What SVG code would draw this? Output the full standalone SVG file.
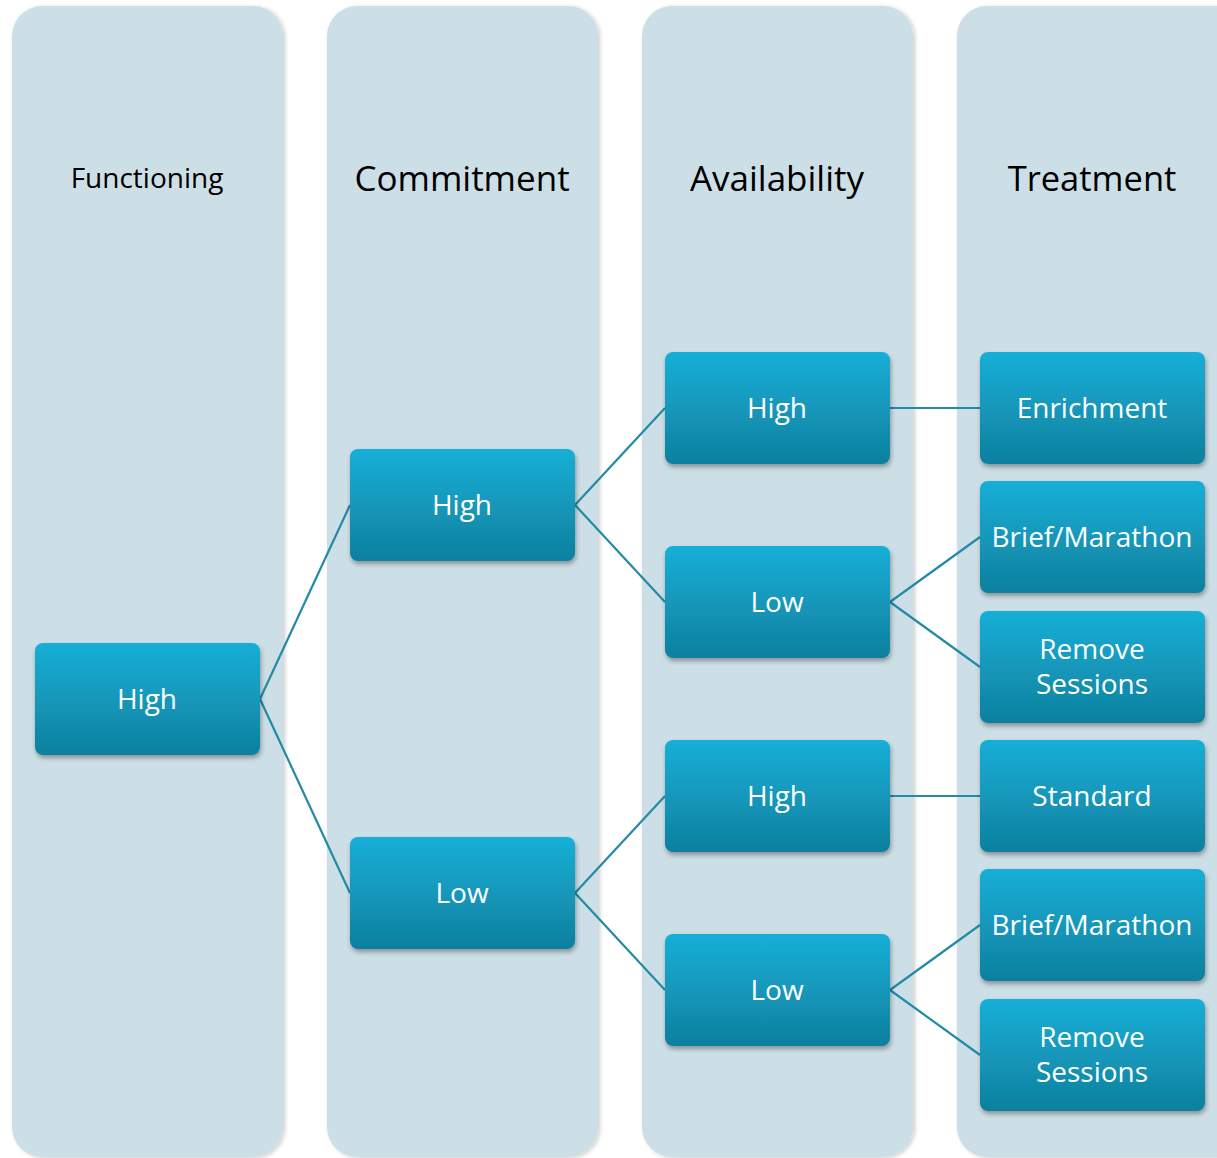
<svg xmlns="http://www.w3.org/2000/svg" width="1217" height="1158" viewBox="0 0 1217 1158">
<defs>
<linearGradient id="ng" x1="0" y1="0" x2="0" y2="1">
<stop offset="0" stop-color="#15afd7"/>
<stop offset="1" stop-color="#10809e"/>
</linearGradient>
<filter id="sh" x="-10%" y="-10%" width="125%" height="130%">
<feGaussianBlur in="SourceAlpha" stdDeviation="2.5"/>
<feOffset dx="1" dy="3" result="b"/>
<feComponentTransfer><feFuncA type="linear" slope="0.35"/></feComponentTransfer>
<feMerge><feMergeNode/><feMergeNode in="SourceGraphic"/></feMerge>
</filter>
<filter id="csh" x="-10%" y="-5%" width="125%" height="110%">
<feGaussianBlur in="SourceAlpha" stdDeviation="2"/>
<feOffset dx="2" dy="1" result="b"/>
<feComponentTransfer><feFuncA type="linear" slope="0.2"/></feComponentTransfer>
<feMerge><feMergeNode/><feMergeNode in="SourceGraphic"/></feMerge>
</filter>
</defs>
<style>
.col{fill:#cddfe6;filter:url(#csh)}
.node{fill:url(#ng);filter:url(#sh)}
.title{font-family:"Open Sans","Liberation Sans",sans-serif;fill:#000;text-anchor:middle}
.lbl{font-family:"Open Sans","Liberation Sans",sans-serif;font-size:28px;fill:#fff;text-anchor:middle}
.con{stroke:#238aa6;stroke-width:2.2;fill:none}
</style>
<rect width="1217" height="1158" fill="#fff"/>
<g id="columns">
<g id="col-functioning"><rect class="col" x="12" y="6" width="271" height="1151" rx="30"/><text class="title" x="147" y="188" font-size="28">Functioning</text></g>
<g id="col-commitment"><rect class="col" x="327" y="6" width="271" height="1151" rx="30"/><text class="title" x="462" y="191" font-size="35">Commitment</text></g>
<g id="col-availability"><rect class="col" x="642" y="6" width="271" height="1151" rx="30"/><text class="title" x="777" y="191" font-size="35">Availability</text></g>
<g id="col-treatment"><rect class="col" x="957" y="6" width="290" height="1151" rx="30"/><text class="title" x="1092" y="191" font-size="34.5">Treatment</text></g>
</g>
<g id="connectors">
<line class="con" x1="260" y1="699" x2="350" y2="505"/>
<line class="con" x1="260" y1="699" x2="350" y2="893"/>
<line class="con" x1="575" y1="505" x2="665" y2="408"/>
<line class="con" x1="575" y1="505" x2="665" y2="602"/>
<line class="con" x1="575" y1="893" x2="665" y2="796"/>
<line class="con" x1="575" y1="893" x2="665" y2="990"/>
<line class="con" x1="890" y1="408" x2="980" y2="408"/>
<line class="con" x1="890" y1="602" x2="980" y2="537"/>
<line class="con" x1="890" y1="602" x2="980" y2="667"/>
<line class="con" x1="890" y1="796" x2="980" y2="796"/>
<line class="con" x1="890" y1="990" x2="980" y2="925"/>
<line class="con" x1="890" y1="990" x2="980" y2="1055"/>
</g>
<g id="n-func-high"><rect class="node" x="35" y="643" width="225" height="112" rx="8"/><text class="lbl" x="147" y="709">High</text></g>
<g id="n-comm-high"><rect class="node" x="350" y="449" width="225" height="112" rx="8"/><text class="lbl" x="462" y="515">High</text></g>
<g id="n-comm-low"><rect class="node" x="350" y="837" width="225" height="112" rx="8"/><text class="lbl" x="462" y="903">Low</text></g>
<g id="n-av-high1"><rect class="node" x="665" y="352" width="225" height="112" rx="8"/><text class="lbl" x="777" y="418">High</text></g>
<g id="n-av-low1"><rect class="node" x="665" y="546" width="225" height="112" rx="8"/><text class="lbl" x="777" y="612">Low</text></g>
<g id="n-av-high2"><rect class="node" x="665" y="740" width="225" height="112" rx="8"/><text class="lbl" x="777" y="806">High</text></g>
<g id="n-av-low2"><rect class="node" x="665" y="934" width="225" height="112" rx="8"/><text class="lbl" x="777" y="1000">Low</text></g>
<g id="n-tr-enrich"><rect class="node" x="980" y="352" width="225" height="112" rx="8"/><text class="lbl" x="1092" y="418">Enrichment</text></g>
<g id="n-tr-brief1"><rect class="node" x="980" y="481" width="225" height="112" rx="8"/><text class="lbl" x="1092" y="547">Brief/Marathon</text></g>
<g id="n-tr-remove1"><rect class="node" x="980" y="611" width="225" height="112" rx="8"/><text class="lbl" x="1092" y="659">Remove</text><text class="lbl" x="1092" y="694">Sessions</text></g>
<g id="n-tr-standard"><rect class="node" x="980" y="740" width="225" height="112" rx="8"/><text class="lbl" x="1092" y="806">Standard</text></g>
<g id="n-tr-brief2"><rect class="node" x="980" y="869" width="225" height="112" rx="8"/><text class="lbl" x="1092" y="935">Brief/Marathon</text></g>
<g id="n-tr-remove2"><rect class="node" x="980" y="999" width="225" height="112" rx="8"/><text class="lbl" x="1092" y="1047">Remove</text><text class="lbl" x="1092" y="1082">Sessions</text></g>
</svg>
